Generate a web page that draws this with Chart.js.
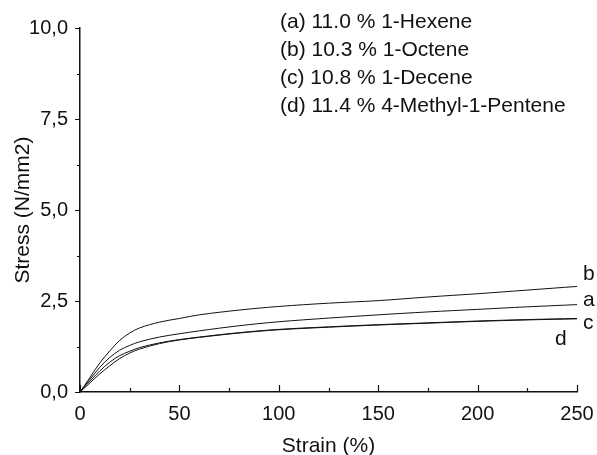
<!DOCTYPE html>
<html>
<head>
<meta charset="utf-8">
<script src="https://cdn.jsdelivr.net/npm/chart.js@4/dist/chart.umd.min.js"></script>
<style>
  html, body { margin: 0; padding: 0; background: #fff; }
  #wrap { width: 597px; height: 455px; }
</style>
</head>
<body>
<div id="wrap"><canvas id="stress"></canvas></div>
<script>
// strain (%) sample points
var strain = [0, 2, 5, 10, 15, 20, 25, 30, 40, 50, 60, 80, 100, 125, 150, 175, 200, 225, 250];

// stress (N/mm2)
var stressA = [0, 0.15, 0.35, 0.68, 0.95, 1.15, 1.28, 1.38, 1.51, 1.60, 1.68, 1.82, 1.93, 2.03, 2.12, 2.20, 2.27, 2.34, 2.40];
var stressB = [0, 0.15, 0.40, 0.80, 1.13, 1.42, 1.62, 1.76, 1.92, 2.02, 2.12, 2.25, 2.35, 2.44, 2.51, 2.61, 2.70, 2.80, 2.90];
var stressC = [0, 0.12, 0.30, 0.58, 0.82, 1.00, 1.12, 1.22, 1.35, 1.44, 1.51, 1.63, 1.72, 1.79, 1.85, 1.90, 1.95, 1.99, 2.02];
var stressD = [0, 0.10, 0.25, 0.50, 0.72, 0.92, 1.07, 1.18, 1.33, 1.43, 1.50, 1.62, 1.71, 1.78, 1.84, 1.89, 1.94, 1.98, 2.01];

var curveTags = ['a', 'b', 'c', 'd'];
var legendLines = [
  '(a) 11.0 % 1-Hexene',
  '(b) 10.3 % 1-Octene',
  '(c) 10.8 % 1-Decene',
  '(d) 11.4 % 4-Methyl-1-Pentene'
];

var FONT = '"Liberation Sans", Arial, sans-serif';

function pts(ys) {
  return strain.map(function (x, i) { return { x: x, y: ys[i] }; });
}

function series(tag, ys) {
  return {
    label: tag,
    data: pts(ys),
    borderColor: '#111',
    borderWidth: 1,
    pointRadius: 0,
    tension: 0.35,
    fill: false
  };
}

// tick marks, end letters and the text legend
var decor = {
  id: 'decor',
  afterDraw: function (chart) {
    var ctx = chart.ctx;
    var xs = chart.scales.x, ys = chart.scales.y;
    var area = chart.chartArea;
    ctx.save();
    ctx.strokeStyle = '#111';
    ctx.lineWidth = 1.2;
    ctx.beginPath();
    for (var v = 0; v <= 250; v += 25) {
      var px = Math.round(xs.getPixelForValue(v)) + 0.5;
      var len = (v % 50 === 0) ? 7 : 4;
      ctx.moveTo(px, area.bottom);
      ctx.lineTo(px, area.bottom - len);
    }
    for (var w = 0; w <= 10; w += 1.25) {
      var py = Math.round(ys.getPixelForValue(w)) + 0.5;
      var l2 = (w % 2.5 === 0) ? 5 : 3;
      ctx.moveTo(area.left, py);
      ctx.lineTo(area.left - l2, py);
    }
    ctx.stroke();

    ctx.fillStyle = '#111';
    ctx.font = '21px ' + FONT;
    ctx.textBaseline = 'middle';
    ctx.textAlign = 'left';
    // legend text
    legendLines.forEach(function (t, i) {
      ctx.fillText(t, 280, 22 + i * 28);
    });
    // letters at the curve ends
    var last = strain.length - 1;
    var xEnd = xs.getPixelForValue(strain[last]);
    ctx.fillText('b', xEnd + 6, ys.getPixelForValue(stressB[last]) - 12);
    ctx.fillText('a', xEnd + 6, ys.getPixelForValue(stressA[last]) - 4);
    ctx.fillText('c', xEnd + 6, ys.getPixelForValue(stressC[last]) + 5);
    ctx.fillText('d', xEnd - 22, ys.getPixelForValue(stressD[last]) + 20);
    ctx.restore();
  }
};

new Chart(document.getElementById('stress').getContext('2d'), {
  type: 'line',
  data: {
    datasets: [
      series(curveTags[0], stressA),
      series(curveTags[1], stressB),
      series(curveTags[2], stressC),
      series(curveTags[3], stressD)
    ]
  },
  options: {
    responsive: true,
    maintainAspectRatio: false,
    animation: false,
    layout: { padding: { top: 28, right: 20, left: 0, bottom: 0 } },
    plugins: { legend: { display: false }, tooltip: { enabled: false } },
    scales: {
      x: {
        type: 'linear',
        min: 0, max: 250,
        grid: { display: false },
        border: { display: true, color: '#111', width: 1.5 },
        ticks: {
          stepSize: 50, color: '#111', padding: 2,
          font: { family: FONT, size: 20 }
        },
        title: {
          display: true, text: 'Strain (%)', color: '#111',
          font: { family: FONT, size: 21 }, padding: { top: 4, bottom: -4 }
        },
        afterFit: function (s) { s.height = 63; }
      },
      y: {
        min: 0, max: 10,
        grid: { display: false },
        border: { display: true, color: '#111', width: 1.5 },
        ticks: {
          stepSize: 2.5, color: '#111', padding: 4,
          font: { family: FONT, size: 20 },
          callback: function (v) { return v.toFixed(1).replace('.', ','); }
        },
        title: {
          display: true, text: 'Stress (N/mm2)', color: '#111',
          font: { family: FONT, size: 21 }, padding: { top: 11, bottom: 0 }
        },
        afterFit: function (s) { s.width = 80; }
      }
    }
  },
  plugins: [decor]
});
</script>
</body>
</html>
